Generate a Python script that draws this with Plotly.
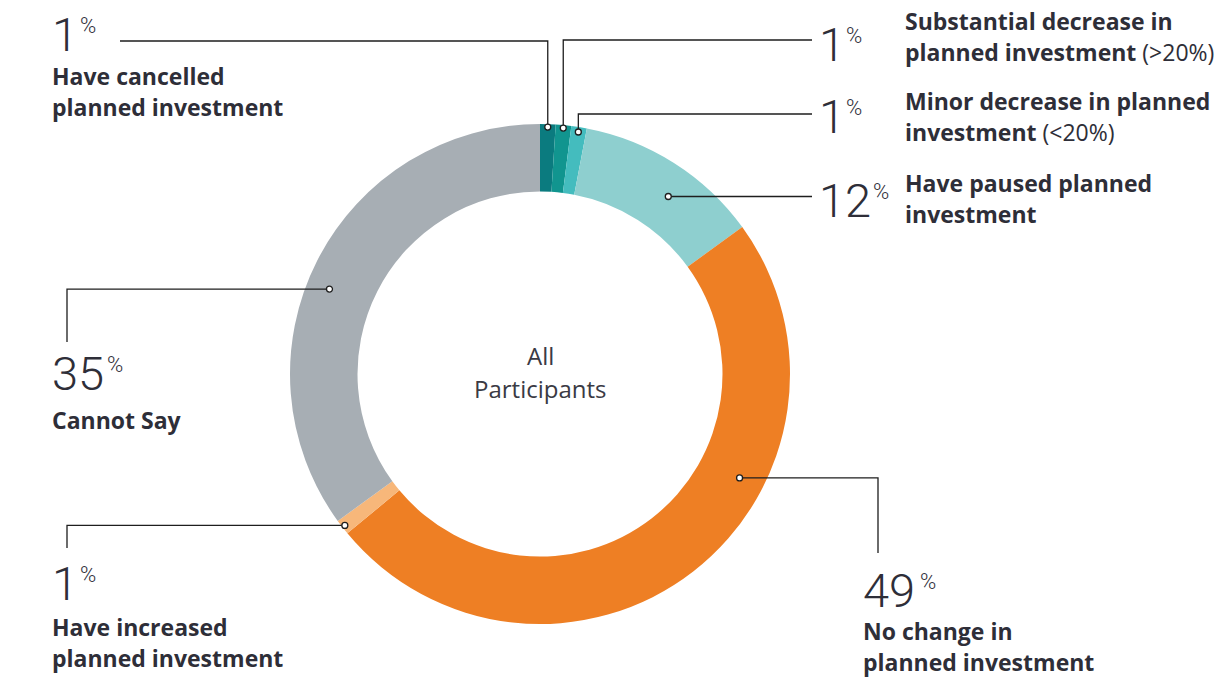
import math
import plotly.graph_objects as go

# ---------------- data ----------------
categories = [
    "Have cancelled planned investment",
    "Substantial decrease in planned investment (>20%)",
    "Minor decrease in planned investment (<20%)",
    "Have paused planned investment",
    "No change in planned investment",
    "Have increased planned investment",
    "Cannot Say",
]
values = [1, 1, 1, 12, 49, 1, 35]
colors = ["#0b7b7f", "#11958f", "#44bcbe", "#8ecfcf", "#ee7f24", "#f7b77a", "#a7aeb4"]
label_lines = [
    ["<b>Have cancelled</b>", "<b>planned investment</b>"],
    ["<b>Substantial decrease in</b>", "<b>planned investment</b> (>20%)"],
    ["<b>Minor decrease in planned</b>", "<b>investment</b> (<20%)"],
    ["<b>Have paused planned</b>", "<b>investment</b>"],
    ["<b>No change in</b>", "<b>planned investment</b>"],
    ["<b>Have increased</b>", "<b>planned investment</b>"],
    ["<b>Cannot Say</b>"],
]
center_lines = ["All", "Participants"]

# ---------------- geometry (pixels) ----------------
W, H = 1223, 679
CX, CY, R_OUT = 540, 374, 250
HOLE = 0.73

def px(x):
    return x / W

def py(y):
    return 1 - y / H

# position of the leader dot inside each slice (fraction of the slice) and radius
dot_frac = [0.5, 0.5, 0.5, 0.58, 0.36, 0.5, 0.46]
dot_rad = [247, 247, 245, 219, 225, 247, 227]

total = sum(values)
starts = []
acc = 0
for v in values:
    starts.append(acc)
    acc += v
dots = []
for s, v, f, r in zip(starts, values, dot_frac, dot_rad):
    ang = (s + v * f) / total * 2 * math.pi
    dots.append((CX + r * math.sin(ang), CY - r * math.cos(ang)))

# label anchor pixel positions: (number x, number top y, pct x, label x, label top y)
num_pos = [
    (50, 5, 78, 50, 58),
    (817, 15, 844, 903, 3),
    (817, 87, 844, 903, 83),
    (817, 171, 871, 903, 165),
    (861, 561, 918, 861, 613),
    (50, 554, 78, 50, 609),
    (50, 344, 105, 50, 402),
]

# leader routes from dot: list of ('h', x) / ('v', y) moves
routes = [
    [("v", 41), ("h", 120)],
    [("v", 40), ("h", 812)],
    [("v", 114), ("h", 812)],
    [("h", 812)],
    [("h", 878), ("v", 553)],
    [("h", 67), ("v", 548)],
    [("h", 67), ("v", 342)],
]

fig = go.Figure()
fig.add_trace(go.Pie(
    labels=categories,
    values=values,
    marker=dict(colors=colors, line=dict(width=0)),
    hole=HOLE,
    sort=False,
    direction="clockwise",
    rotation=0,
    textinfo="none",
    hoverinfo="label+percent",
    showlegend=False,
    domain=dict(x=[px(CX - R_OUT), px(CX + R_OUT)], y=[py(CY + R_OUT), py(CY - R_OUT)]),
))

shapes = []
annotations = []
TXT = "#2e2e38"
for i, (dot, route) in enumerate(zip(dots, routes)):
    x, y = dot
    path = f"M {px(x)},{py(y)}"
    for kind, val in route:
        if kind == "h":
            x = val
        else:
            y = val
        path += f" L {px(x)},{py(y)}"
    shapes.append(dict(type="path", xref="paper", yref="paper", path=path,
                       line=dict(color="#1e1e1e", width=1.3)))
for (x, y) in dots:
    shapes.append(dict(type="circle", xref="paper", yref="paper",
                       xsizemode="pixel", ysizemode="pixel",
                       xanchor=px(x), yanchor=py(y), x0=-3, x1=3, y0=-3, y1=3,
                       fillcolor="white", line=dict(color="#1e1e1e", width=1.3)))

for i, v in enumerate(values):
    nx, ny, pxx, lx, ly = num_pos[i]
    annotations.append(dict(text=str(v), x=px(nx), y=py(ny), xref="paper", yref="paper",
                            xanchor="left", yanchor="top", showarrow=False,
                            font=dict(family="Roboto", size=47, color=TXT, weight=300)))
    annotations.append(dict(text="%", x=px(pxx), y=py(ny + 6), xref="paper", yref="paper",
                            xanchor="left", yanchor="top", showarrow=False,
                            font=dict(family="Roboto", size=22, color=TXT, weight=300)))
    for j, line in enumerate(label_lines[i]):
        annotations.append(dict(text=line, x=px(lx), y=py(ly + j * 31), xref="paper", yref="paper",
                                xanchor="left", yanchor="top", showarrow=False, align="left",
                                font=dict(family="Open Sans", size=23, color=TXT)))

for j, line in enumerate(center_lines):
    annotations.append(dict(text=line, x=px(CX), y=py(355 + j * 33), xref="paper", yref="paper",
                            xanchor="center", yanchor="middle", showarrow=False,
                            font=dict(family="Open Sans", size=24, color="#3a3a44")))

fig.update_layout(
    width=W, height=H,
    margin=dict(l=0, r=0, t=0, b=0),
    paper_bgcolor="white", plot_bgcolor="white",
    shapes=shapes, annotations=annotations,
)

fig.write_html("out.html", config={"displayModeBar": False},
               post_script="document.body.style.margin='0';")
